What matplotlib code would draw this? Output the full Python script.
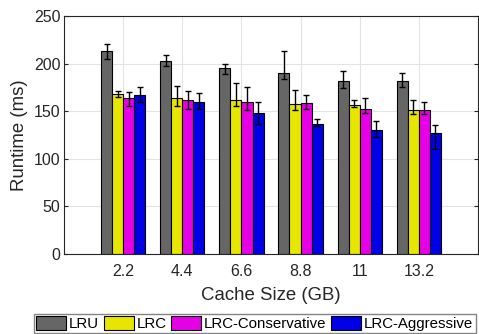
import numpy as np
import matplotlib
matplotlib.use('Agg')
import matplotlib.pyplot as plt

plt.rcParams['font.family'] = ['Liberation Sans', 'DejaVu Sans']

sizes = ['2.2', '4.4', '6.6', '8.8', '11', '13.2']
names = ['LRU', 'LRC', 'LRC-Conservative', 'LRC-Aggressive']
colors = ['#666666', '#e6e600', '#e600e6', '#0000e6']

lru = [213, 203, 195, 190, 182, 182]
lru_lo = [8, 6, 6, 6, 8, 7]
lru_hi = [8, 6, 5, 23, 10, 8]
lrc = [168, 164, 162, 158, 157, 151]
lrc_lo = [3, 9, 7, 7, 3, 4]
lrc_hi = [3, 12, 18, 14, 5, 11]
cons = [164, 162, 160, 159, 152, 151]
cons_lo = [9, 10, 9, 7, 4, 4]
cons_hi = [6, 9, 15, 8, 12, 9]
aggr = [167, 160, 148, 137, 130, 127]
aggr_lo = [7, 8, 11, 3, 7, 17]
aggr_hi = [8, 9, 12, 5, 10, 9]

series = [(lru, lru_lo, lru_hi), (lrc, lrc_lo, lrc_hi),
          (cons, cons_lo, cons_hi), (aggr, aggr_lo, aggr_hi)]

fig = plt.figure(figsize=(4.79, 3.34), dpi=100)
ax = fig.add_axes([0.1336, 0.2395, 0.8643, 0.7126])

x = np.arange(1, len(sizes) + 1)
w = 0.1875
for i, (vals, lo, hi) in enumerate(series):
    pos = x + (i - 1.5) * w
    ax.bar(pos, vals, w, color=colors[i], edgecolor='black', linewidth=0.8,
           label=names[i], zorder=2)
    ax.errorbar(pos, vals, yerr=[lo, hi], fmt='none', ecolor='black',
                elinewidth=1, capsize=2.5, capthick=1, zorder=3)

ax.set_xlim(0, 7)
ax.set_ylim(0, 250)
ax.set_xticks(x)
ax.set_xticklabels(sizes)
ax.set_yticks(range(0, 251, 50))
ax.grid(True, color='#e3e3e3', linewidth=0.8, zorder=0)
ax.set_axisbelow(True)
ax.tick_params(direction='in', length=3, labelsize=11.5, colors='#262626',
               right=True, top=False)
ax.tick_params(axis='x', pad=7)
ax.tick_params(axis='y', pad=2.5)
for s in ax.spines.values():
    s.set_color('#262626')
    s.set_linewidth(0.8)
ax.set_xlabel('Cache Size (GB)', fontsize=13.4, color='#262626', labelpad=6)
ax.set_ylabel('Runtime (ms)', fontsize=13.4, color='#262626', labelpad=4)

fig.legend(loc='lower center', bbox_to_anchor=(0.532, 0.0), ncol=4,
           fontsize=10.8, frameon=True, fancybox=False, edgecolor='#666666',
           handlelength=2.0, handleheight=1.0, handletextpad=0.2,
           columnspacing=0.3, borderpad=0.15, borderaxespad=0.05)

fig.savefig('out.png', dpi=100)
